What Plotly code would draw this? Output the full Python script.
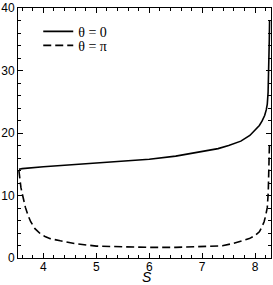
import plotly.graph_objects as go

s_theta0 = [3.537, 3.6, 4.0, 4.32, 4.5, 5.0, 5.5, 6.0, 6.5, 7.0, 7.3, 7.5, 7.73, 7.9, 8.0, 8.08, 8.13, 8.18, 8.21, 8.23, 8.245, 8.255, 8.262, 8.268, 8.273]
v_theta0 = [14.2, 14.3, 14.6, 14.8, 14.9, 15.2, 15.5, 15.8, 16.3, 17.0, 17.5, 18.0, 18.7, 19.6, 20.4, 21.2, 21.9, 22.8, 23.7, 24.6, 26.5, 29.0, 32.0, 35.0, 38.0]

s_thetapi = [3.537, 3.555, 3.575, 3.6, 3.63, 3.66, 3.71, 3.76, 3.84, 3.94, 4.03, 4.13, 4.32, 4.6, 5.0, 5.5, 6.0, 6.5, 7.0, 7.38, 7.57, 7.75, 7.89, 8.0, 8.08, 8.13, 8.17, 8.2, 8.23, 8.248, 8.258, 8.265, 8.27]
v_thetapi = [14.0, 12.6, 11.3, 10.3, 9.1, 8.1, 6.8, 5.8, 4.7, 3.9, 3.45, 3.1, 2.75, 2.3, 1.9, 1.75, 1.7, 1.7, 1.8, 1.95, 2.3, 2.7, 3.1, 3.6, 4.2, 5.0, 5.8, 6.8, 8.1, 10.5, 13.0, 15.5, 18.0]

legend_labels = ["θ = 0", "θ = π"]
x_ticks = [4, 5, 6, 7, 8]
y_ticks = [0, 10, 20, 30, 40]
x_title = "S"

fig = go.Figure()
fig.add_trace(go.Scatter(x=s_theta0, y=v_theta0, mode="lines", name=legend_labels[0],
                         line=dict(color="black", width=1.6), legend="legend"))
fig.add_trace(go.Scatter(x=s_thetapi, y=v_thetapi, mode="lines", name=legend_labels[1],
                         line=dict(color="black", width=1.6, dash="8px,4px"), legend="legend2"))

axis_common = dict(
    showline=True, linecolor="black", linewidth=1, mirror="allticks",
    ticks="inside", ticklen=5, tickcolor="black", tickwidth=1,
    showgrid=False, zeroline=False, ticklabeloverflow="allow",
    tickfont=dict(family="Liberation Sans, Arial, sans-serif", size=12, color="black"),
)

fig.update_xaxes(range=[3.52, 8.3], tickvals=x_ticks, ticklabelstandoff=-2,
                 minor=dict(dtick=0.2, ticks="inside", ticklen=3, tickcolor="black", showgrid=False),
                 **axis_common)
fig.update_yaxes(range=[0, 40], tickvals=y_ticks,
                 minor=dict(dtick=2, ticks="inside", ticklen=3, tickcolor="black", showgrid=False),
                 **axis_common)

fig.add_annotation(text="<i>" + x_title + "</i>", xref="paper", yref="paper",
                   x=0.51, y=-0.107, xanchor="center", yanchor="bottom", showarrow=False,
                   borderpad=0, yshift=-1,
                   font=dict(family="Liberation Sans, Arial, sans-serif", size=14, color="black"))

legend_font = dict(family="Liberation Serif, Times New Roman, serif", size=14, color="black")
fig.update_layout(
    width=273, height=285,
    margin=dict(l=18, r=1, t=6, b=27),
    paper_bgcolor="white", plot_bgcolor="white",
    showlegend=True,
    legend=dict(x=0.08, y=0.905, xanchor="left", yanchor="middle",
                bgcolor="rgba(0,0,0,0)", borderwidth=0, font=legend_font, itemwidth=30),
    legend2=dict(x=0.08, y=0.849, xanchor="left", yanchor="middle",
                 bgcolor="rgba(0,0,0,0)", borderwidth=0, font=legend_font, itemwidth=30),
)

fig.write_html("out.html", config={"displayModeBar": False},
               post_script="document.body.style.margin='0';document.body.style.overflow='hidden';")
